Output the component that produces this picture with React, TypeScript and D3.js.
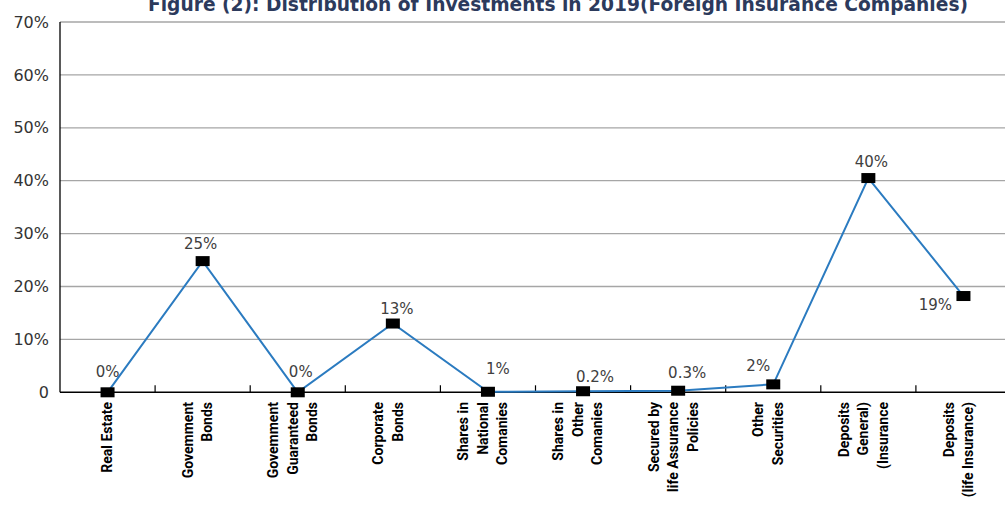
import React from "react";
import * as d3 from "d3";

const categories: string[][] = [
  ["Real Estate"],
  ["Govemment", "Bonds"],
  ["Govemment", "Guaranteed", "Bonds"],
  ["Corporate", "Bonds"],
  ["Shares in", "National", "Comanies"],
  ["Shares in", "Other", "Comanies"],
  ["Secured by", "life Assurance", "Policies"],
  ["Other", "Securities"],
  ["Deposits", "General)", "(Insurance"],
  ["Deposits", "(life Insurance)"],
];
const values: number[] = [0, 24.8, 0, 13, 0.1, 0.2, 0.3, 1.5, 40.5, 18.2];
const valueLabels: string[] = ["0%", "25%", "0%", "13%", "1%", "0.2%", "0.3%", "2%", "40%", "19%"];
const yTicks: number[] = [0, 10, 20, 30, 40, 50, 60, 70];
const yTickLabels: string[] = ["0", "10%", "20%", "30%", "40%", "50%", "60%", "70%"];
const title = "Figure (2): Distribution of Investments in 2019(Foreign Insurance Companies)";

// label placement (style only)
const labelOffsets: [number, number][] = [
  [0, -15], [-2, -12], [3, -15], [4, -10], [10, -18],
  [12, -9], [9, -13], [-15, -13], [3, -11], [-28, 14],
];

export default function App() {
  const W = 1005, H = 505;
  const left = 60, bandW = 95.1;
  const x = d3.scaleBand<number>()
    .domain(d3.range(categories.length))
    .range([left, left + bandW * categories.length])
    .paddingInner(0).paddingOuter(0);
  const y = d3.scaleLinear().domain([0, 70]).range([392.3, 22]);
  const cx = (i: number) => (x(i) as number) + x.bandwidth() / 2;

  const line = d3.line<number>()
    .x((_, i) => cx(i))
    .y((d) => y(d));

  const font = "'DejaVu Sans', sans-serif";
  const y0 = y(0);

  return (
    <svg width={W} height={H} style={{ position: "absolute", left: 0, top: 0, background: "#fff" }}>
      <rect x={0} y={0} width={W} height={H} fill="#fff" />
      <text x={558} y={11} textAnchor="middle" fontFamily={font} fontWeight="bold" fontSize={19}
        fill="#2c3a5c" textLength={820} lengthAdjust="spacingAndGlyphs">{title}</text>

      {yTicks.map((t, i) => (
        <g key={t}>
          {t > 0 && <line x1={left} x2={W} y1={y(t)} y2={y(t)} stroke="#a6a6a6" strokeWidth={1.3} />}
          <text x={49} y={y(t)} dy="0.35em" textAnchor="end" fontFamily={font} fontSize={16} fill="#333">
            {yTickLabels[i]}
          </text>
        </g>
      ))}

      <line x1={left} x2={left} y1={y(70)} y2={y0} stroke="#000" strokeWidth={1.3} />
      <line x1={left} x2={W} y1={y0} y2={y0} stroke="#000" strokeWidth={1.5} />
      {d3.range(1, categories.length).map((i) => (
        <line key={i} x1={x(i) as number} x2={x(i) as number} y1={y0} y2={y0 - 7} stroke="#000" strokeWidth={1.2} />
      ))}

      <path d={line(values) || ""} fill="none" stroke="#2b7bc0" strokeWidth={2} />
      {values.map((v, i) => (
        <rect key={i} x={cx(i) - 7} y={y(v) - 5} width={14} height={10} fill="#000" />
      ))}
      {values.map((v, i) => (
        <text key={i} x={cx(i) + labelOffsets[i][0]} y={y(v) + labelOffsets[i][1]} textAnchor="middle"
          fontFamily={font} fontSize={15} fill="#404040">{valueLabels[i]}</text>
      ))}

      {categories.map((lines, i) => {
        const n = lines.length;
        const off = n > 1 ? -5 : 0;
        return (
          <g key={i}>
            {lines.map((l, j) => {
              const lx = cx(i) + off + (j - (n - 1) / 2) * 19.5;
              return (
                <text key={j} transform={`translate(${lx},402) rotate(-90)`} textAnchor="end" dy="0.35em"
                  fontFamily="Roboto, sans-serif" fontWeight="bold" fontSize={14} fill="#000">{l}</text>
              );
            })}
          </g>
        );
      })}
    </svg>
  );
}
